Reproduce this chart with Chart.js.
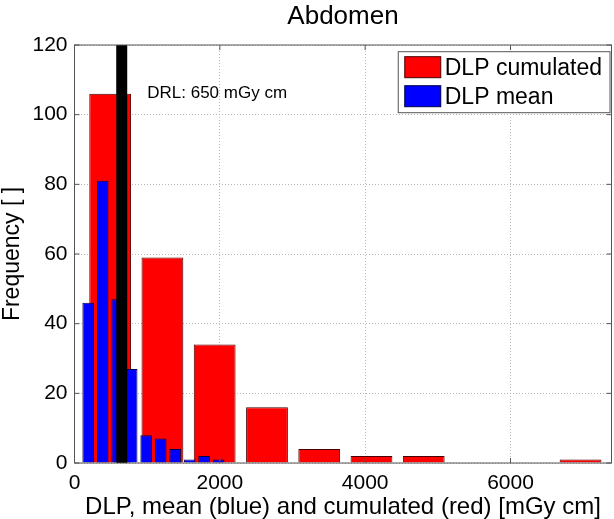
<!DOCTYPE html>
<html><head><meta charset="utf-8">
<script src="https://cdn.jsdelivr.net/npm/chart.js@4"></script>
<style>html,body{margin:0;padding:0;background:#fff;}canvas{display:block}</style>
</head><body>
<canvas id="c" width="614" height="519"></canvas>
<script>
const chartTitle = "Abdomen";
const xAxisTitle = "DLP, mean (blue) and cumulated (red) [mGy cm]";
const yAxisTitle = "Frequency [ ]";
const cumulatedLabel = "DLP cumulated";
const meanLabel = "DLP mean";
const cumulatedBinCenters = [491, 1210, 1929, 2649, 3368, 4087, 4806, 5525, 6245, 6964];
const cumulatedCounts = [106, 59, 34, 16, 4, 2, 2, 0, 0, 1];
const meanBinCenters = [188, 388, 587, 787, 986, 1186, 1385, 1585, 1784, 1984];
const meanCounts = [46, 81, 47, 27, 8, 7, 4, 1, 2, 1];
const drlValue = 650;
const drlLabel = "DRL: 650 mGy cm";
const drlLabelY = 106;
const xTicks = [0, 2000, 4000, 6000];
const yTicks = [0, 20, 40, 60, 80, 100, 120];
const xRange = [0, 7390];
const yRange = [0, 120];

const FONT = "'Liberation Sans', Arial, Helvetica, sans-serif";
Chart.defaults.font.family = FONT;
Chart.defaults.color = '#000';

const frameAndTicks = {
  id: 'frameAndTicks',
  afterDatasetsDraw(chart) {
    const {ctx, chartArea: a, scales} = chart;
    ctx.save();
    ctx.strokeStyle = '#555';
    ctx.lineWidth = 1;
    ctx.strokeRect(a.left, a.top, a.right - a.left, a.bottom - a.top);
    const L = 5;
    ctx.beginPath();
    xTicks.forEach(v => {
      const px = scales.x.getPixelForValue(v);
      ctx.moveTo(px, a.bottom); ctx.lineTo(px, a.bottom - L);
      ctx.moveTo(px, a.top); ctx.lineTo(px, a.top + L);
    });
    yTicks.forEach(v => {
      const py = scales.y.getPixelForValue(v);
      ctx.moveTo(a.left, py); ctx.lineTo(a.left + L, py);
      ctx.moveTo(a.right, py); ctx.lineTo(a.right - L, py);
    });
    ctx.stroke();
    ctx.fillStyle = '#000';
    ctx.font = "17px " + FONT;
    ctx.textBaseline = 'middle';
    ctx.textAlign = 'left';
    ctx.fillText(drlLabel, scales.x.getPixelForValue(drlValue) + 25.5, scales.y.getPixelForValue(drlLabelY));
    ctx.restore();
  }
};

const insideLegend = {
  id: 'insideLegend',
  afterDraw(chart) {
    const {ctx, chartArea: a} = chart;
    const items = chart.data.datasets.filter(d => d.inLegend);
    ctx.save();
    ctx.font = "23px " + FONT;
    const tw = Math.max(...items.map(d => ctx.measureText(d.label).width));
    const sw = 36, sh = 21, padL = 6.5, gap = 4, padR = 8, rowH = 29, padT = 5, padB = 6;
    const w = padL + sw + gap + tw + padR;
    const h = padT + (items.length - 1) * rowH + sh + padB;
    const x0 = a.right - 1.5 - w, y0 = a.top + 6.7;
    ctx.fillStyle = '#fff';
    ctx.fillRect(x0, y0, w, h);
    ctx.strokeStyle = '#555';
    ctx.lineWidth = 1;
    ctx.strokeRect(x0, y0, w, h);
    items.forEach((d, i) => {
      const sy = y0 + padT + i * rowH;
      ctx.fillStyle = d.backgroundColor;
      ctx.fillRect(x0 + padL, sy, sw, sh);
      ctx.strokeStyle = d.borderColor;
      ctx.strokeRect(x0 + padL, sy, sw, sh);
      ctx.fillStyle = '#000';
      ctx.textBaseline = 'middle';
      ctx.textAlign = 'left';
      ctx.fillText(d.label, x0 + padL + sw + gap, sy + sh / 2 + 1);
    });
    ctx.restore();
  }
};

new Chart(document.getElementById('c'), {
  type: 'bar',
  data: {
    datasets: [
      {
        type: 'bar', label: cumulatedLabel, inLegend: true,
        data: cumulatedBinCenters.map((x, i) => ({x, y: cumulatedCounts[i]})),
        xAxisID: 'x', yAxisID: 'y',
        backgroundColor: '#ff0000', borderColor: '#4a0000', borderWidth: 1,
        barPercentage: 0.8, categoryPercentage: 1, grouped: false, order: 2
      },
      {
        type: 'bar', label: meanLabel, inLegend: true,
        data: meanBinCenters.map((x, i) => ({x, y: meanCounts[i]})),
        xAxisID: 'x2', yAxisID: 'y',
        backgroundColor: '#0000ff', borderColor: '#00004a', borderWidth: 1,
        barPercentage: 0.8, categoryPercentage: 1, grouped: false, order: 1
      },
      {
        type: 'line', label: 'DRL', inLegend: false,
        data: [{x: drlValue, y: yRange[0]}, {x: drlValue, y: yRange[1]}],
        xAxisID: 'x', yAxisID: 'y',
        borderColor: '#000', backgroundColor: '#000', borderWidth: 11,
        borderCapStyle: 'butt', pointRadius: 0, fill: false, order: 0
      }
    ]
  },
  options: {
    responsive: false,
    animation: false,
    layout: {padding: {top: 0, right: 2.5, bottom: 0, left: 0}},
    plugins: {
      legend: {display: false},
      tooltip: {enabled: false},
      title: {
        display: true, text: chartTitle, fullSize: false,
        font: {size: 26, weight: 'normal', lineHeight: 1},
        color: '#000', padding: {top: 4, bottom: 15}
      }
    },
    scales: {
      x: {
        type: 'linear', position: 'bottom', min: xRange[0], max: xRange[1], offset: false,
        afterBuildTicks: s => { s.ticks = xTicks.map(v => ({value: v})); },
        afterFit: s => { s.height = 56; },
        ticks: {font: {size: 21}, color: '#000', padding: 8, maxRotation: 0, autoSkip: false,
                callback: v => String(v)},
        grid: {color: '#b8b8b8', lineWidth: 1, drawTicks: false, offset: false},
        border: {display: false, dash: [1, 2]},
        title: {display: true, text: xAxisTitle, color: '#000', font: {size: 24, lineHeight: 1}, padding: {top: 0, bottom: 0}}
      },
      x2: {
        type: 'linear', position: 'bottom', min: xRange[0], max: xRange[1], offset: false,
        grid: {offset: false}, display: false
      },
      y: {
        type: 'linear', position: 'left', min: yRange[0], max: yRange[1],
        afterBuildTicks: s => { s.ticks = yTicks.map(v => ({value: v})); },
        afterFit: s => { s.width = 74.5; },
        ticks: {font: {size: 21}, color: '#000', padding: 7},
        grid: {color: '#b8b8b8', lineWidth: 1, drawTicks: false},
        border: {display: false, dash: [1, 2]},
        title: {display: true, text: yAxisTitle, color: '#000', font: {size: 23, lineHeight: 1}, padding: {top: 1, bottom: 0}}
      }
    }
  },
  plugins: [frameAndTicks, insideLegend]
});
</script>
</body></html>
